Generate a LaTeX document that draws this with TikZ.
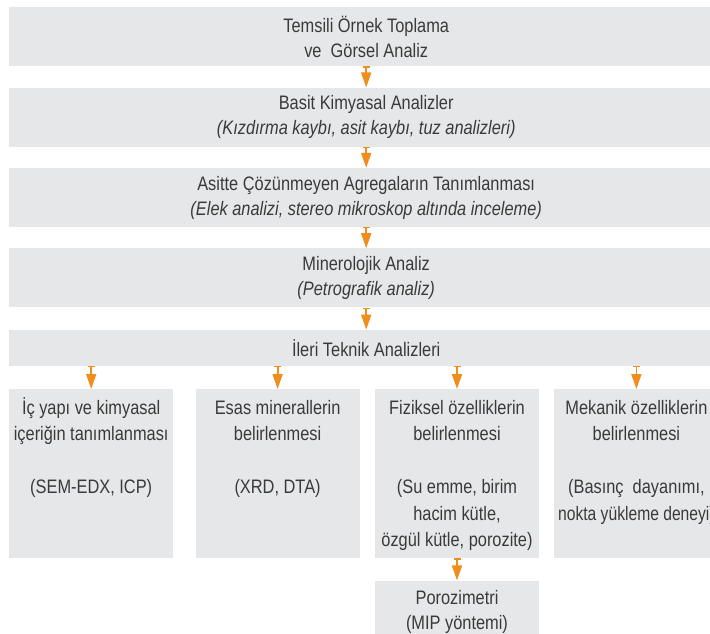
\documentclass[tikz,border=0pt]{standalone}
\usepackage{fontspec}
\setmainfont{Liberation Sans}[FakeStretch=0.84]
\usepackage{xcolor}
\usepackage{graphicx}
\usetikzlibrary{positioning,arrows.meta}

\definecolor{boxgray}{HTML}{E6E7E8}
\definecolor{txtgray}{HTML}{3A3A3A}
\definecolor{arrorange}{HTML}{EF8E1D}
\newcommand{\coltext}[1]{\parbox[t][156pt][t]{160pt}{\centering\strut #1}}

\begin{document}
\begin{tikzpicture}[
  cell/.style = {fill=boxgray, text=txtgray, align=center, inner sep=0pt,
                 font=\fontsize{19.5}{25}\selectfont},
  wide/.style = {cell, minimum width=714pt, minimum height=59pt},
  col/.style  = {cell, minimum width=164pt, minimum height=169pt,
                 inner xsep=2pt, inner ysep=6.5pt,
                 font=\fontsize{19.5}{26.5}\selectfont},
  arr/.style  = {{Bar[width=7pt,line width=1.2pt]}-{Triangle[width=10pt,length=15pt]},
                 draw=arrorange, line width=1.8pt}
]
  \useasboundingbox (0,0) rectangle (710pt,-634pt);

  \node[wide, anchor=north west] (temsili) at (9pt,-7pt)
       {Temsili Örnek Toplama\\ve~ Görsel Analiz};
  \node[wide, below=21pt of temsili] (basit)
       {Basit Kimyasal Analizler\\\textit{(Kızdırma kaybı, asit kaybı, tuz analizleri)}};
  \node[wide, below=21pt of basit] (asitte)
       {Asitte Çözünmeyen Agregaların Tanımlanması\\\textit{(Elek analizi, stereo mikroskop altında inceleme)}};
  \node[wide, below=21pt of asitte] (minerolojik)
       {Minerolojik Analiz\\\textit{(Petrografik analiz)}};
  \node[wide, minimum height=36pt, below=22pt of minerolojik] (ileri)
       {İleri Teknik Analizleri};

  \node[col, below right=23pt and 0pt of ileri.south west] (icyapi)
       {\coltext{İç yapı ve kimyasal\\içeriğin tanımlanması\\[26.5pt](SEM-EDX, ICP)}};
  \node[col, right=22pt of icyapi] (esas)
       {\coltext{Esas minerallerin\\belirlenmesi\\[26.5pt](XRD, DTA)}};
  \node[col, right=15pt of esas] (fiziksel)
       {\coltext{Fiziksel özelliklerin\\belirlenmesi\\[26.5pt](Su emme, birim\\hacim kütle,\\özgül kütle, porozite)}};
  \node[col, right=15pt of fiziksel] (mekanik)
       {\coltext{Mekanik özelliklerin\\belirlenmesi\\[26.5pt](Basınç~ dayanımı,\\\scalebox{0.955}[1]{nokta yükleme deneyi)}}};
  \node[cell, minimum width=164pt, minimum height=62pt, below=22pt of fiziksel] (poro)
       {Porozimetri\\(MIP yöntemi)};

  \draw[arr] (temsili) -- (basit);
  \draw[arr] (basit) -- (asitte);
  \draw[arr] (asitte) -- (minerolojik);
  \draw[arr] (minerolojik) -- (ileri);
  \draw[arr] (ileri.south -| icyapi) -- (icyapi);
  \draw[arr] (ileri.south -| esas) -- (esas);
  \draw[arr] (ileri.south -| fiziksel) -- (fiziksel);
  \draw[arr] (ileri.south -| mekanik) -- (mekanik);
  \draw[arr] (fiziksel) -- (poro);
\end{tikzpicture}
\end{document}
